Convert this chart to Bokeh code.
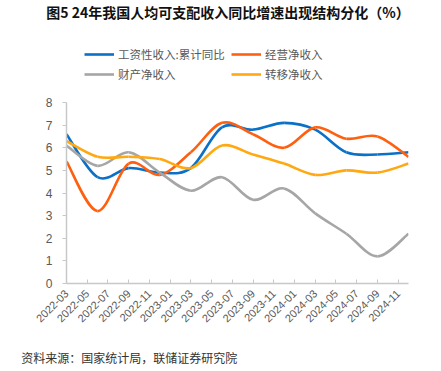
import math
from bokeh.plotting import figure
from bokeh.layouts import column, row
from bokeh.models import Range1d, FixedTicker, Legend, LegendItem
from bokeh.core.properties import value
from bokeh.embed import file_html
from bokeh.resources import INLINE

# ---- data ----
quarters = ['2022-03', '2022-06', '2022-09', '2022-12', '2023-03', '2023-06',
            '2023-09', '2023-12', '2024-03', '2024-06', '2024-09', '2024-12']
wage = [6.6, 4.7, 5.1, 4.9, 5.1, 6.9, 6.8, 7.1, 6.8, 5.8, 5.7, 5.8]
business = [5.4, 3.2, 5.3, 4.8, 5.8, 7.1, 6.6, 6.0, 6.9, 6.4, 6.5, 5.6]
property_ = [6.1, 5.2, 5.8, 4.9, 4.1, 4.7, 3.7, 4.2, 3.1, 2.2, 1.2, 2.2]
transfer = [6.3, 5.6, 5.6, 5.5, 5.1, 6.1, 5.7, 5.3, 4.8, 5.0, 4.9, 5.3]
series_names = ['工资性收入:累计同比', '经营净收入', '财产净收入', '转移净收入']
tick_labels = ['2022-03', '2022-05', '2022-07', '2022-09', '2022-11', '2023-01',
               '2023-03', '2023-05', '2023-07', '2023-09', '2023-11', '2024-01',
               '2024-03', '2024-05', '2024-07', '2024-09', '2024-11']
y_ticks = [0, 1, 2, 3, 4, 5, 6, 7, 8]
title_text = '图5  24年我国人均可支配收入同比增速出现结构分化（%）'
source_text = '资料来源：国家统计局，联储证券研究院'

colors = ['#0A70C8', '#FF6010', '#A6A6A6', '#FFA812']
CJK_NAME = "Noto Sans CJK SC"
CJK = value(CJK_NAME)
W = 425


def month_index(s):
    y, m = s.split('-')
    return (int(y) - 2022) * 12 + int(m) - 3


xq = [month_index(q) for q in quarters]
tick_pos = [month_index(t) for t in tick_labels]


def smooth(xs, ys):
    n = len(xs)
    seg = dict(x0=[], y0=[], x1=[], y1=[], cx0=[], cy0=[], cx1=[], cy1=[])
    for i in range(n - 1):
        xm, ym = (xs[i - 1], ys[i - 1]) if i > 0 else (xs[i], ys[i])
        xp, yp = (xs[i + 2], ys[i + 2]) if i + 2 < n else (xs[i + 1], ys[i + 1])
        seg['x0'].append(xs[i]); seg['y0'].append(ys[i])
        seg['x1'].append(xs[i + 1]); seg['y1'].append(ys[i + 1])
        seg['cx0'].append(xs[i] + (xs[i + 1] - xm) / 6)
        seg['cy0'].append(ys[i] + (ys[i + 1] - ym) / 6)
        seg['cx1'].append(xs[i + 1] - (xp - xs[i]) / 6)
        seg['cy1'].append(ys[i + 1] - (yp - ys[i]) / 6)
    return seg


def blank(h):
    f = figure(width=W, height=h, x_range=Range1d(0, W), y_range=Range1d(h, 0),
               x_axis_type=None, y_axis_type=None, toolbar_location=None,
               output_backend="svg", min_border=0, outline_line_color=None)
    f.grid.visible = False
    return f


def rule(color, h):
    f = figure(width=406, height=h, x_axis_type=None, y_axis_type=None,
               toolbar_location=None, output_backend="svg", min_border=0,
               outline_line_color=None, background_fill_color=color,
               border_fill_color=color, margin=(0, 0, 0, 12))
    f.grid.visible = False
    return f


# ---- top: title ----
top = blank(24)
top.text(x=[229], y=[11.5], text=[title_text], text_font=CJK, text_font_style="bold",
         text_font_size="14px", text_align="center", text_baseline="middle",
         text_color="#111111")
rule_top = rule("#A6A6A6", 2)          # page y 24-26

# ---- main chart (page y 26-346) ----
p_top, frame_top, frame_bottom, y8, p_bottom = 26, 44, 283, 102, 346
ymax = 8 * (frame_bottom - frame_top) / (frame_bottom - y8)
p = figure(width=W, height=p_bottom - p_top, x_range=Range1d(0, 33), y_range=Range1d(0, ymax),
           toolbar_location=None, output_backend="svg",
           min_border_left=66, min_border_right=17, min_border_top=frame_top - p_top,
           min_border_bottom=p_bottom - frame_bottom, outline_line_color=None)
p.grid.visible = False

renderers = []
for ys, c in zip([wage, business, property_, transfer], colors):
    r = p.bezier(line_color=c, line_width=2.6, **smooth(xq, ys))
    renderers.append(r)

p.xaxis.ticker = FixedTicker(ticks=tick_pos)
p.xaxis.major_label_overrides = {t: l for t, l in zip(tick_pos, tick_labels)}
p.xaxis.major_label_orientation = math.pi / 4
p.xaxis.major_tick_in = 4
p.xaxis.major_tick_out = 0
p.xaxis.minor_tick_line_color = None
p.xaxis.axis_line_color = "#C8C8C8"
p.xaxis.axis_line_width = 1.5
p.xaxis.major_tick_line_color = "#C8C8C8"
p.xaxis.major_label_text_font = "Liberation Sans"
p.xaxis.major_label_text_font_size = "11px"
p.xaxis.major_label_text_color = "#595959"
p.xaxis.major_label_standoff = 8

p.yaxis.ticker = FixedTicker(ticks=y_ticks)
p.yaxis.bounds = (0, 8)
p.yaxis.major_tick_in = 0
p.yaxis.major_tick_out = 4
p.yaxis.minor_tick_line_color = None
p.yaxis.axis_line_color = "#C8C8C8"
p.yaxis.axis_line_width = 1.5
p.yaxis.major_tick_line_color = "#C8C8C8"
p.yaxis.major_label_text_font = "Liberation Sans"
p.yaxis.major_label_text_font_size = "12px"
p.yaxis.major_label_text_color = "#595959"
p.yaxis.major_label_standoff = 10

for idxs, xloc in [((0, 2), 18), ((1, 3), 165)]:
    leg = Legend(items=[LegendItem(label=series_names[i], renderers=[renderers[i]]) for i in idxs],
                 location=(xloc, frame_bottom - 82), orientation="vertical",
                 padding=0, margin=0, spacing=4, glyph_width=30, glyph_height=14,
                 label_height=14, label_standoff=4, border_line_color=None,
                 background_fill_alpha=0, label_text_font=CJK_NAME,
                 label_text_font_size="11.5px", label_text_color="#595959")
    p.add_layout(leg)

# ---- bottom: source ----
rule_bot = rule("#404040", 1)           # page y 346-347
bot = blank(20)                          # page y 347-367
bot.text(x=[20.7], y=[10], text=[source_text], text_font=CJK, text_font_size="12px",
         text_align="left", text_baseline="middle", text_color="#333333")

layout = column(row(top), rule_top, p, rule_bot, row(bot), spacing=0)
open("out.html", "w").write(file_html(layout, INLINE))
